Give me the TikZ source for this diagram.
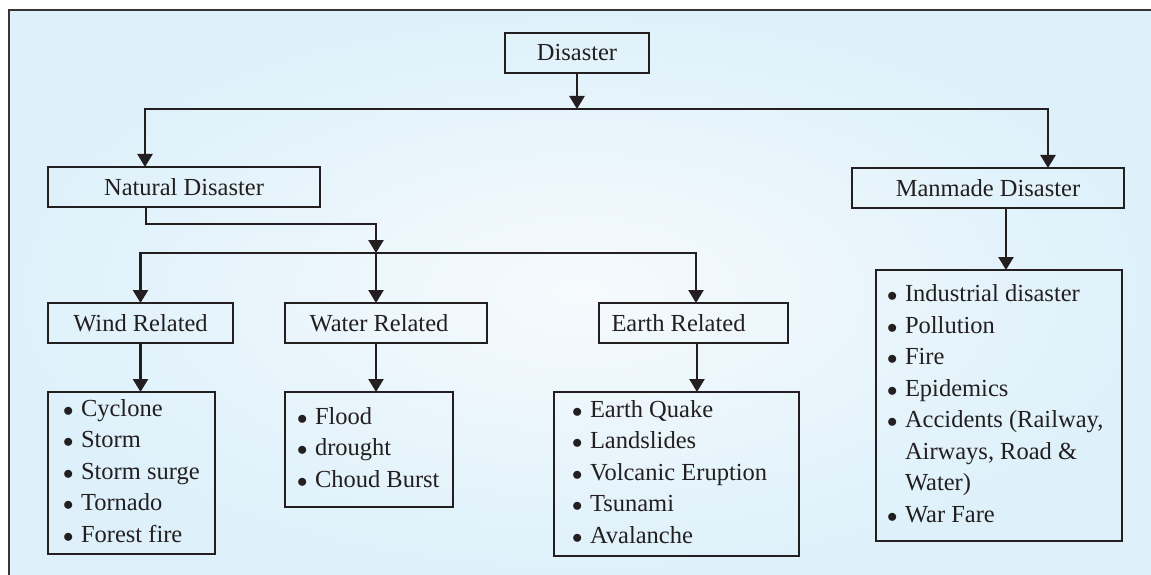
\documentclass[tikz,border=0pt]{standalone}
\usepackage{fontspec}
\setmainfont{Liberation Serif}
\usetikzlibrary{arrows.meta}
\definecolor{ink}{RGB}{35,31,32}
\definecolor{bgout}{RGB}{222,241,250}
\definecolor{bgin}{RGB}{246,250,253}
\newcommand{\bitem}[1]{\makebox[18pt][l]{\fontsize{21}{0}\selectfont$\bullet$}#1}
\newcommand{\bcont}[1]{\hspace*{18pt}#1}
\newcommand{\blist}[3]{\begin{tabular}{@{\hspace{#1}}p{#2}@{}}#3\end{tabular}}
\begin{document}
\begin{tikzpicture}[x=1pt,y=-1pt,
  box/.style={draw=ink, line width=2.6pt, rectangle, inner sep=0pt, outer sep=0pt,
    anchor=north west, text=ink, font=\fontsize{24.5}{31.5}\selectfont, align=center},
  listbox/.style={box},
  conn/.style={draw=ink, line width=2.4pt},
  arr/.style={conn, -{Triangle[width=15pt,length=13pt]}}]
\useasboundingbox (0,0) rectangle (1151,575);
\shade[inner color=bgin, outer color=bgout] (9,10) rectangle (1151,575);
\draw[ink!90, line width=2pt] (9,576) -- (9,10) -- (1152,10);

% header boxes
\node[box, minimum width=144pt, minimum height=40pt] (dis) at (505,33) {Disaster};
\node[box, minimum width=272pt, minimum height=40pt] (nat) at (48,167) {Natural Disaster};
\node[box, minimum width=272pt, minimum height=40pt] (man) at (852,168) {Manmade Disaster};
\node[box, minimum width=185pt, minimum height=40pt] (wind) at (48,303) {Wind Related};
\node[box, minimum width=202pt, minimum height=40pt] (water) at (285,303) {Water Related\hspace*{14pt}};
\node[box, minimum width=189pt, minimum height=40pt] (earth) at (599,303) {Earth Related\hspace*{30pt}};

% list boxes
\node[listbox, minimum width=167pt, minimum height=162pt] (windL) at (48,392)
  {\blist{15pt}{152pt}{\bitem{Cyclone}\\ \bitem{Storm}\\ \bitem{Storm surge}\\ \bitem{Tornado}\\ \bitem{Forest fire}}};
\node[listbox, minimum width=168pt, minimum height=115pt] (waterL) at (285,392)
  {\blist{12pt}{156pt}{\bitem{Flood}\\ \bitem{drought}\\ \bitem{Choud Burst}}};
\node[listbox, minimum width=245pt, minimum height=164pt] (earthL) at (554,392)
  {\blist{18pt}{227pt}{\bitem{Earth Quake}\\ \bitem{Landslides}\\ \bitem{Volcanic Eruption}\\ \bitem{Tsunami}\\ \bitem{Avalanche}}};
\node[listbox, minimum width=246pt, minimum height=271pt] (manL) at (876,270)
  {\blist{11pt}{235pt}{\bitem{Industrial disaster}\\ \bitem{Pollution}\\ \bitem{Fire}\\ \bitem{Epidemics}\\
   \bitem{Accidents (Railway,}\\ \bcont{Airways, Road \&}\\ \bcont{Water)}\\ \bitem{War Fare}}};

% connectors
\coordinate (j1) at (577,109);
\draw[arr] (dis.south) -- (j1);
\path ([xshift=97pt]nat.north west) coordinate (natIn);
\path ([xshift=196pt]man.north west) coordinate (manIn);
\draw[arr] (j1) -| (natIn);
\draw[arr] (j1) -| (manIn);

\path ([xshift=98pt]nat.south west) coordinate (natOut);
\coordinate (k2) at (376,224);
\coordinate (j2) at (376,253);
\draw[arr] (natOut) |- (k2) -- (j2);
\path ([xshift=91pt]water.north west) coordinate (waIn);
\path ([xshift=97pt]earth.north west) coordinate (eaIn);
\draw[arr] (j2) -| (wind.north);
\draw[arr] (j2) -- (waIn);
\draw[arr] (j2) -| (eaIn);

\draw[arr] (wind.south) -- (wind.south |- windL.north);
\path ([xshift=91pt]water.south west) coordinate (waOut);
\draw[arr] (waOut) -- (waOut |- waterL.north);
\path ([xshift=98pt]earth.south west) coordinate (eaOut);
\draw[arr] (eaOut) -- (eaOut |- earthL.north);
\path ([xshift=154pt]man.south west) coordinate (maOut);
\draw[arr] (maOut) -- (maOut |- manL.north);
\end{tikzpicture}
\end{document}
